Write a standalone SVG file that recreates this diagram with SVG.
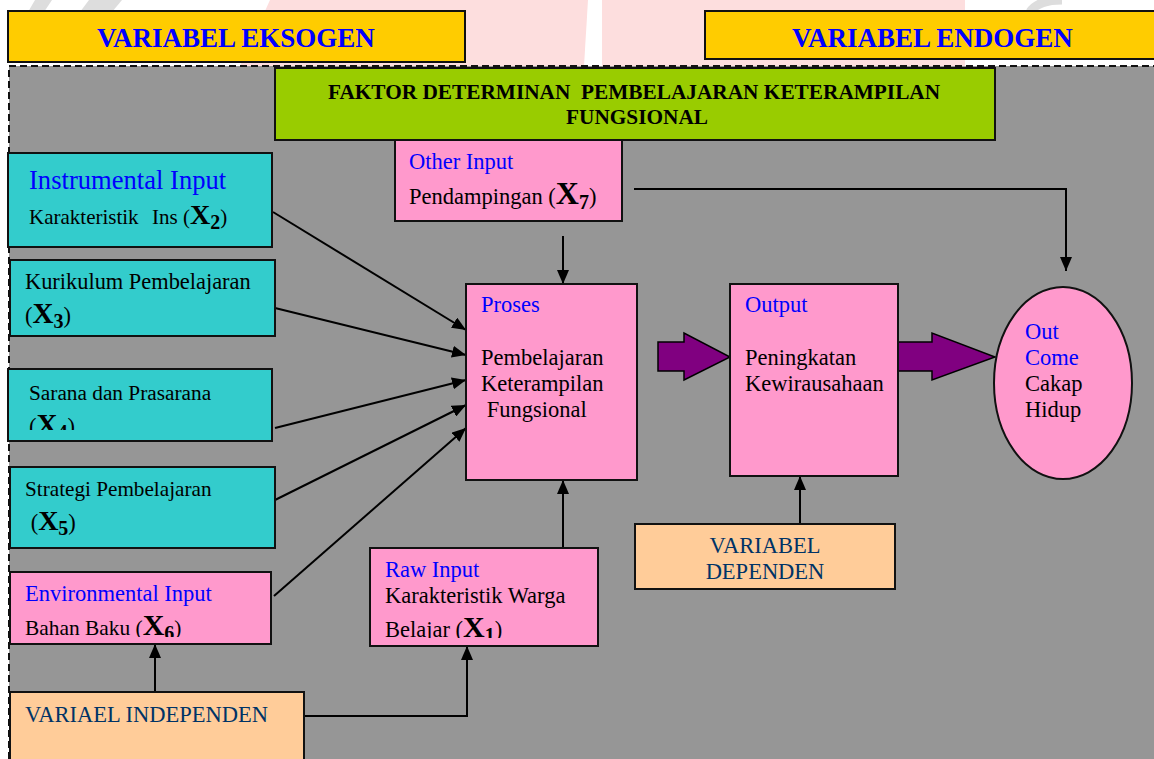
<svg xmlns="http://www.w3.org/2000/svg" width="1154" height="759" viewBox="0 0 1154 759">
<style>
.t{font-family:"Liberation Serif","Times New Roman",serif;font-size:22.5px;fill:#000}
.bl{fill:#0000FF}
.dv{fill:#003366}
.bx{font-weight:bold;font-size:30px}
.sb{font-weight:bold;font-size:20px}
.hd{font-family:"Liberation Serif","Times New Roman",serif;font-weight:bold;font-size:27px;fill:#0000FF}
.gt{font-family:"Liberation Serif","Times New Roman",serif;font-weight:bold;font-size:21.3px;fill:#000}
.box{stroke:#111;stroke-width:2}
.teal{fill:#33CCCC}
.pink{fill:#FF99CC}
.peach{fill:#FFCC99}
.yel{fill:#FFCC00}
.conn{stroke:#000;stroke-width:2;fill:none}
.blk{fill:#800080;stroke:#000;stroke-width:1.5}
</style>
<defs>
<marker id="ah" markerWidth="14" markerHeight="12" refX="14" refY="6" orient="auto" markerUnits="userSpaceOnUse">
<path d="M0,0 L14,6 L0,12 Z" fill="#000"/>
</marker>
<clipPath id="c4"><rect x="0" y="369" width="280" height="61"/></clipPath>
<clipPath id="c6"><rect x="0" y="572" width="280" height="65"/></clipPath>
<clipPath id="c1"><rect x="370" y="548" width="230" height="90"/></clipPath>
</defs>
<!-- background & faint watermark -->
<rect x="0" y="0" width="1154" height="759" fill="#fff"/>
<g id="watermark">
<polygon points="270,0 588,0 584,66 240,66" fill="#FDDEDE"/>
<polygon points="602,0 965,0 965,66 602,66" fill="#FDDEDE"/>
<polygon points="35,0 52,0 44,12 28,12" fill="#DDDDDD"/>
<polygon points="89,0 122,0 112,12 80,12" fill="#DDDDDD"/>
<path d="M1030,12 Q1038,0 1062,0" stroke="#DDDDDD" stroke-width="9" fill="none"/>
</g>
<!-- grey panel with dashed border -->
<rect x="9" y="66" width="1150" height="700" fill="#969696"/>
<path d="M9,759 L9,66 L1154,66" stroke="#111" stroke-width="2" stroke-dasharray="7,4" fill="none"/>

<g id="hdr-eksogen">
<rect class="box yel" x="8" y="11" width="457" height="51"/>
<text class="hd" x="97" y="47">VARIABEL EKSOGEN</text>
</g>
<g id="hdr-endogen">
<rect class="box yel" x="705" y="11" width="460" height="48"/>
<text class="hd" x="792" y="47">VARIABEL ENDOGEN</text>
</g>
<g id="title">
<rect class="box" fill="#99CC00" x="275" y="68" width="720" height="72"/>
<text class="gt" x="328" y="99" xml:space="preserve">FAKTOR DETERMINAN  PEMBELAJARAN KETERAMPILAN</text>
<text class="gt" x="566" y="124">FUNGSIONAL</text>
</g>

<g id="connectors">
<line class="conn" x1="273" y1="212" x2="466" y2="330" marker-end="url(#ah)"/>
<line class="conn" x1="275" y1="308" x2="466" y2="355" marker-end="url(#ah)"/>
<line class="conn" x1="275" y1="428" x2="466" y2="380" marker-end="url(#ah)"/>
<line class="conn" x1="275" y1="500" x2="466" y2="405" marker-end="url(#ah)"/>
<line class="conn" x1="274" y1="596" x2="466" y2="428" marker-end="url(#ah)"/>
<line class="conn" x1="563" y1="236" x2="563" y2="284" marker-end="url(#ah)"/>
<polyline class="conn" points="634,189 1066,189 1066,271" marker-end="url(#ah)"/>
<line class="conn" x1="563" y1="548" x2="563" y2="480" marker-end="url(#ah)"/>
<polyline class="conn" points="300,716 467,716 467,646" marker-end="url(#ah)"/>
<line class="conn" x1="155" y1="692" x2="155" y2="644" marker-end="url(#ah)"/>
<line class="conn" x1="800" y1="524" x2="800" y2="476" marker-end="url(#ah)"/>
<polygon class="blk" points="658,342 684,342 684,333 730,357 684,380 684,371 658,371"/>
<polygon class="blk" points="898,342 932,342 932,333 995,357 932,380 932,371 898,371"/>
</g>

<g id="other-input">
<rect class="box pink" x="395" y="140" width="227" height="81"/>
<text class="t bl" x="409" y="169">Other Input</text>
<text class="t" x="409" y="204">Pendampingan (<tspan class="bx" style="font-size:32px">X</tspan><tspan class="sb" dy="5">7</tspan><tspan dy="-5">)</tspan></text>
</g>

<g id="instrumental">
<rect class="box teal" x="8" y="153" width="264" height="94"/>
<text class="t bl" x="29" y="189" style="font-size:26.6px">Instrumental Input</text>
<text class="t" x="29" y="224" style="font-size:21px">Karakteristik<tspan x="152">Ins (</tspan><tspan class="bx" style="font-size:28px">X</tspan><tspan class="sb" dy="5">2</tspan><tspan dy="-5">)</tspan></text>
</g>

<g id="kurikulum">
<rect class="box teal" x="10" y="260" width="265" height="76"/>
<text class="t" x="25" y="289" style="font-size:22.4px">Kurikulum Pembelajaran</text>
<text class="t" x="25" y="323">(<tspan class="bx" style="font-size:29px">X</tspan><tspan class="sb" dy="5">3</tspan><tspan dy="-5">)</tspan></text>
</g>

<g id="sarana">
<rect class="box teal" x="8" y="369" width="264" height="72"/>
<text class="t" x="29" y="400" style="font-size:21.3px">Sarana dan Prasarana</text>
<text class="t" x="29" y="434" clip-path="url(#c4)">(<tspan class="bx" style="font-size:29px">X</tspan><tspan class="sb" dy="5">4</tspan><tspan dy="-5">)</tspan></text>
</g>

<g id="strategi">
<rect class="box teal" x="10" y="467" width="265" height="81"/>
<text class="t" x="25" y="496" style="font-size:21.2px">Strategi Pembelajaran</text>
<text class="t" x="25" y="530" xml:space="preserve"> (<tspan class="bx" style="font-size:28px">X</tspan><tspan class="sb" dy="5">5</tspan><tspan dy="-5">)</tspan></text>
</g>

<g id="environmental">
<rect class="box pink" x="10" y="572" width="261" height="72"/>
<text class="t bl" x="25" y="601">Environmental Input</text>
<text class="t" x="25" y="635" style="font-size:21.4px" clip-path="url(#c6)">Bahan Baku (<tspan class="bx">X</tspan><tspan class="sb" dy="5">6</tspan><tspan dy="-5">)</tspan></text>
</g>

<g id="independen">
<rect class="box peach" x="10" y="692" width="294" height="75"/>
<text class="t dv" x="25" y="722">VARIAEL INDEPENDEN</text>
</g>

<g id="raw-input">
<rect class="box pink" x="370" y="548" width="228" height="98"/>
<text class="t bl" x="385" y="577">Raw Input</text>
<text class="t" x="385" y="603">Karakteristik Warga</text>
<text class="t" x="385" y="637" clip-path="url(#c1)">Belajar (<tspan class="bx">X</tspan><tspan class="sb" dy="5">1</tspan><tspan dy="-5">)</tspan></text>
</g>

<g id="proses">
<rect class="box pink" x="466" y="284" width="171" height="196"/>
<text class="t bl" x="481" y="312">Proses</text>
<text class="t" x="481" y="365">Pembelajaran</text>
<text class="t" x="481" y="391">Keterampilan</text>
<text class="t" x="481" y="417" xml:space="preserve"> Fungsional</text>
</g>

<g id="output">
<rect class="box pink" x="730" y="284" width="168" height="192"/>
<text class="t bl" x="745" y="312">Output</text>
<text class="t" x="745" y="365">Peningkatan</text>
<text class="t" x="745" y="391">Kewirausahaan</text>
</g>

<g id="outcome">
<ellipse class="box pink" cx="1063" cy="383" rx="69" ry="96"/>
<text class="t bl" x="1025" y="339">Out</text>
<text class="t bl" x="1025" y="365">Come</text>
<text class="t" x="1025" y="391">Cakap</text>
<text class="t" x="1025" y="417">Hidup</text>
</g>

<g id="dependen">
<rect class="box peach" x="635" y="524" width="260" height="65"/>
<text class="t dv" x="765" y="553" text-anchor="middle">VARIABEL</text>
<text class="t dv" x="765" y="579" text-anchor="middle">DEPENDEN</text>
</g>
</svg>
